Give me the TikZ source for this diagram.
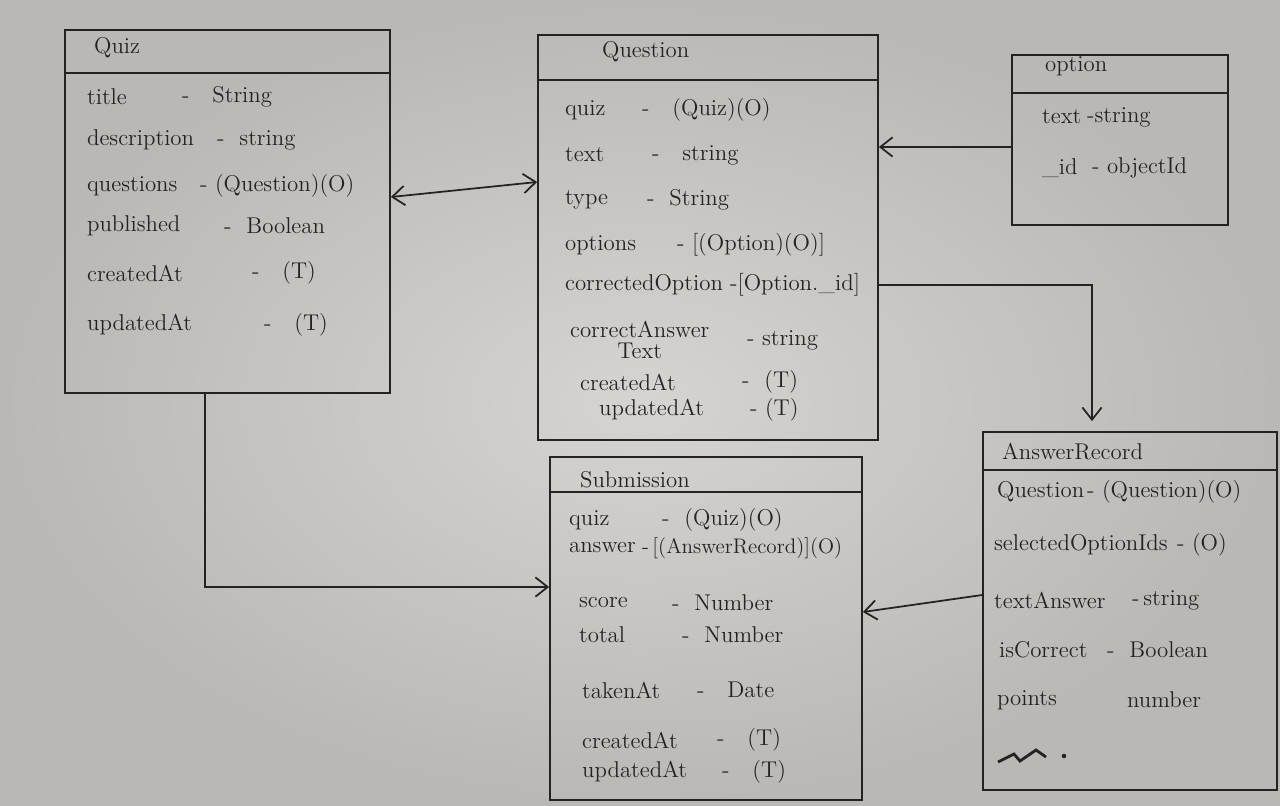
\documentclass[tikz,border=0pt]{standalone}
\usepackage{tikz}
\usetikzlibrary{arrows.meta,fit}
\definecolor{paper}{RGB}{214,212,208}
\definecolor{paperdark}{RGB}{186,184,180}
\definecolor{ink}{RGB}{38,34,34}

\begin{document}
\begin{tikzpicture}[x=0.02cm,y=-0.02cm]
      \tikzstyle{box}=[draw=ink,line width=1pt,inner sep=0pt]
      \tikzstyle{field}=[anchor=west,inner sep=1pt,text=ink,
			 font=\fontsize{13}{15}\selectfont]
      \tikzstyle{link}=[draw=ink,line width=1pt,
			>={Straight Barb[length=7pt,width=11pt]}]
      \shade[inner color=paper,outer color=paperdark] (0,0) rectangle (1280,805);
      \useasboundingbox (0,0) rectangle (1280,805);

      \node[box,fit={(65,30) (390,393)}] (quiz) {};
      \draw[box] (quiz.west |- 0,73) -- (quiz.east |- 0,73);
      \node[field] (quizT) at (92,48) {Quiz};
      \node[field] (qz1) at (85,97) {title};
      \node[field] (qz1t) at (180,97) {-\quad String};
      \node[field] (qz2) at (85,140) {description};
      \node[field] (qz2t) at (215,140) {-\ \ string};
      \node[field] (qz3) at (85,186) {questions};
      \node[field] (qz3t) at (198,186) {-\ (Question)(O)};
      \node[field] (qz4) at (85,226) {published};
      \node[field] (qz4t) at (222,226) {-\ \ Boolean};
      \node[field] (qz5) at (85,273) {createdAt};
      \node[field] (qz5t) at (250,273) {-\quad (T)};
      \node[field] (qz6) at (85,325) {updatedAt};
      \node[field] (qz6t) at (262,325) {-\quad (T)};

      \node[box,fit={(538,35) (878,440)}] (question) {};
      \draw[box] (question.west |- 0,80) -- (question.east |- 0,80);
      \node[field] (questionT) at (600,52) {Question};
      \node[field] (qn1) at (563,110) {quiz};
      \node[field] (qn1t) at (640,110) {-\quad (Quiz)(O)};
      \node[field] (qn2) at (563,155) {text};
      \node[field] (qn2t) at (650,155) {-\quad string};
      \node[field] (qn3) at (563,200) {type};
      \node[field] (qn3t) at (645,200) {-\ \ String};
      \node[field] (qn4) at (563,245) {options};
      \node[field] (qn4t) at (675,245) {- [(Option)(O)]};
      \node[field] (qn5) at (563,285) {correctedOption};
      \node[field] (qn5t) at (728,285) {-[Option.\_id]};
      \node[field,align=center] (qn6) at (568,340) {correctAnswer\\[-3pt]Text};
      \node[field] (qn6t) at (745,340) {-\ string};
      \node[field] (qn7) at (578,382) {createdAt};
      \node[field] (qn7t) at (740,382) {-\ \ (T)};
      \node[field] (qn8) at (597,410) {updatedAt};
      \node[field] (qn8t) at (748,410) {-\ (T)};

      \node[box,fit={(1012,55) (1228,225)}] (option) {};
      \draw[box] (option.west |- 0,93) -- (option.east |- 0,93);
      \node[field] (optionT) at (1043,66) {option};
      \node[field] (op1) at (1040,117) {text};
      \node[field] (op1t) at (1085,117) {-string};
      \node[field] (op2) at (1040,168) {\_id};
      \node[field] (op2t) at (1090,168) {-\ objectId};

      \node[box,fit={(550,457) (862,800)}] (submission) {};
      \draw[box] (submission.west |- 0,492) -- (submission.east |- 0,492);
      \node[field] (submissionT) at (578,480) {Submission};
      \node[field] (sb1) at (567,520) {quiz};
      \node[field] (sb1t) at (660,520) {-\ \ (Quiz)(O)};
      \node[field] (sb2) at (567,548) {answer};
      \node[field,font=\fontsize{12}{14}\selectfont] (sb2t) at (640,548) {-\,[(AnswerRecord)](O)};
      \node[field] (sb3) at (577,603) {score};
      \node[field] (sb3t) at (670,603) {-\ \ Number};
      \node[field] (sb4) at (577,635) {total};
      \node[field] (sb4t) at (680,635) {-\ \ Number};
      \node[field] (sb5) at (580,690) {takenAt};
      \node[field] (sb5t) at (695,690) {-\quad Date};
      \node[field] (sb6) at (580,740) {createdAt};
      \node[field] (sb6t) at (715,740) {-\quad (T)};
      \node[field] (sb7) at (580,772) {updatedAt};
      \node[field] (sb7t) at (720,772) {-\quad (T)};

      \node[box,fit={(983,432) (1277,790)}] (ansrec) {};
      \draw[box] (ansrec.west |- 0,470) -- (ansrec.east |- 0,470);
      \node[field] (ansrecT) at (1000,452) {AnswerRecord};
      \node[field] (ar1) at (995,492) {Question};
      \node[field] (ar1t) at (1085,492) {-\ (Question)(O)};
      \node[field] (ar2) at (992,545) {selectedOptionIds};
      \node[field] (ar2t) at (1175,545) {-\ (O)};
      \node[field] (ar3) at (992,600) {textAnswer};
      \node[field] (ar3t) at (1130,600) {-\,string};
      \node[field] (ar4) at (997,650) {isCorrect};
      \node[field] (ar4t) at (1105,650) {-\ \ Boolean};
      \node[field] (ar5) at (995,700) {points};
      \node[field] (ar5t) at (1125,700) {number};
      \draw[ink,line width=1.6pt] (998,762) -- (1014,754) -- (1020,761)
	  -- (1036,750) -- (1046,757);
      \fill[ink] (1064,756) circle (1.3pt);

      \draw[link,<->] (quiz.east |- 0,197) -- (question.west |- 0,182);
      \draw[link,->] (option.west |- 0,147) -- (question.east |- 0,147);
      \draw[link,->,shorten >=0.2cm] (question.east |- qn5) -| (ansrec.north -| 1092,0);
      \draw[link,->] (quiz.south -| 205,0) |- (submission.west |- 0,587);
      \draw[link,->] (ansrec.west |- 0,595) -- (submission.east |- 0,612);
  \end{tikzpicture}
\end{document}
